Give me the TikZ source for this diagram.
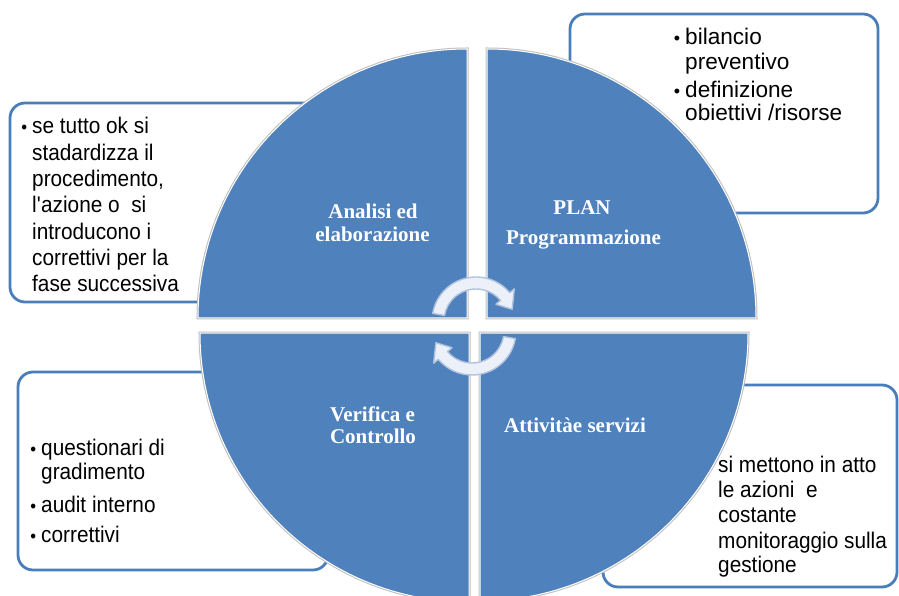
\documentclass[tikz,border=0pt]{standalone}
\usepackage{fontspec}
\newfontfamily\boxsans{Liberation Sans}
\newfontfamily\boxnarrow[FakeStretch=0.92]{Liberation Sans}
\newfontfamily\lblserif{Liberation Serif}
\definecolor{quadblue}{RGB}{79,129,189}
\definecolor{boxblue}{RGB}{74,126,187}
\definecolor{rimgray}{RGB}{190,190,190}
\definecolor{arrowfill}{RGB}{236,241,249}
\definecolor{arrowedge}{RGB}{178,195,222}
\newcommand{\bul}{{\fontsize{18}{18}\selectfont •}}
\begin{document}
\begin{tikzpicture}[x=1pt,y=1pt,
  quad/.style={fill=quadblue, draw=white, line width=1pt,
    preaction={draw=rimgray, line width=3pt}},
  frame/.style={draw=boxblue, line width=2.8pt, rounded corners=15pt, fill=white},
  boxtxt/.style={anchor=base west, inner sep=0pt, font=\boxsans\fontsize{22.6}{26}\selectfont},
  narrowtxt/.style={anchor=base west, inner sep=0pt, font=\boxnarrow\fontsize{22.6}{26}\selectfont},
  lbl/.style={anchor=base, inner sep=0pt, text=white, font=\lblserif\bfseries\fontsize{21}{25}\selectfont},
  cyc/.style={fill=arrowfill, draw=arrowedge, line width=1.4pt, line join=round}]
\useasboundingbox (0,0) rectangle (899,595);
\clip (0,0) rectangle (899,595);

% text frames (behind the circle)
\draw[frame] (10,293) rectangle (330,492);
\draw[frame] (570,382) rectangle (878,581);
\draw[frame] (18,25) rectangle (328,223);
\draw[frame] (603,8) rectangle (897,210);

% quadrants
\path[quad] (467,277) -- (198,277) arc[start angle=180,end angle=90,radius=269] -- cycle;
\path[quad] (487,277) -- (487,546) arc[start angle=90,end angle=0,radius=269] -- cycle;
\path[quad] (469,262) -- (200,262) arc[start angle=180,end angle=270,radius=269] -- cycle;
\path[quad] (480,262) -- (480,-6) arc[start angle=270,end angle=360,radius=268] -- cycle;

% cycle arrows
\path[cyc, shift={(476,274)}] (170:44) arc[start angle=170,end angle=40,radius=44]
  -- (40:50) -- (18:38) -- (40:26) -- (40:32) arc[start angle=40,end angle=170,radius=32] -- cycle;
\path[cyc, shift={(472,264)}] (-10:44) arc[start angle=-10,end angle=-140,radius=44]
  -- (-140:50) -- (-162:38) -- (-140:26) -- (-140:32) arc[start angle=-140,end angle=-10,radius=32] -- cycle;

% quadrant labels
\node[lbl] (an1) at (373,376) {Analisi ed};
\node[lbl] (an2) at (372.5,353) {elaborazione};
\node[lbl] (pl1) at (582,380) {PLAN};
\node[lbl] (pl2) at (583.5,350) {Programmazione};
\node[lbl] (ve1) at (372.5,174) {Verifica e};
\node[lbl] (ve2) at (373,152) {Controllo};
\node[lbl] (at1) at (575,163) {Attivitàe servizi};

% top-left box text
\node[narrowtxt] (tl1) at (32,461) {\llap{\bul\hspace{5pt}}se tutto ok si};
\node[narrowtxt] (tl2) at (32,434.7) {stadardizza il};
\node[narrowtxt] (tl3) at (32,408.4) {procedimento,};
\node[narrowtxt] (tl4) at (32,382.1) {l\textquotesingle azione o~ si};
\node[narrowtxt] (tl5) at (32,355.8) {introducono i};
\node[narrowtxt] (tl6) at (32,329.5) {correttivi per la};
\node[narrowtxt] (tl7) at (32,303.2) {fase successiva};

% top-right box text
\node[boxtxt] (tr1) at (685,550) {\llap{\bul\hspace{5pt}}bilancio};
\node[boxtxt] (tr2) at (685,525) {preventivo};
\node[boxtxt] (tr3) at (685,497) {\llap{\bul\hspace{5pt}}definizione};
\node[boxtxt] (tr4) at (685,474) {obiettivi /risorse};

% bottom-left box text
\node[narrowtxt] (bl1) at (41,140) {\llap{\bul\hspace{5pt}}questionari di};
\node[narrowtxt] (bl2) at (41,115.5) {gradimento};
\node[narrowtxt] (bl3) at (41,82.5) {\llap{\bul\hspace{5pt}}audit interno};
\node[narrowtxt] (bl4) at (41,52.5) {\llap{\bul\hspace{5pt}}correttivi};

% bottom-right box text
\node[narrowtxt] (br1) at (718,123) {si mettono in atto};
\node[narrowtxt] (br2) at (718,98) {le azioni~ e};
\node[narrowtxt] (br3) at (718,73) {costante};
\node[narrowtxt] (br4) at (718,47) {monitoraggio sulla};
\node[narrowtxt] (br5) at (718,23) {gestione};
\end{tikzpicture}
\end{document}
